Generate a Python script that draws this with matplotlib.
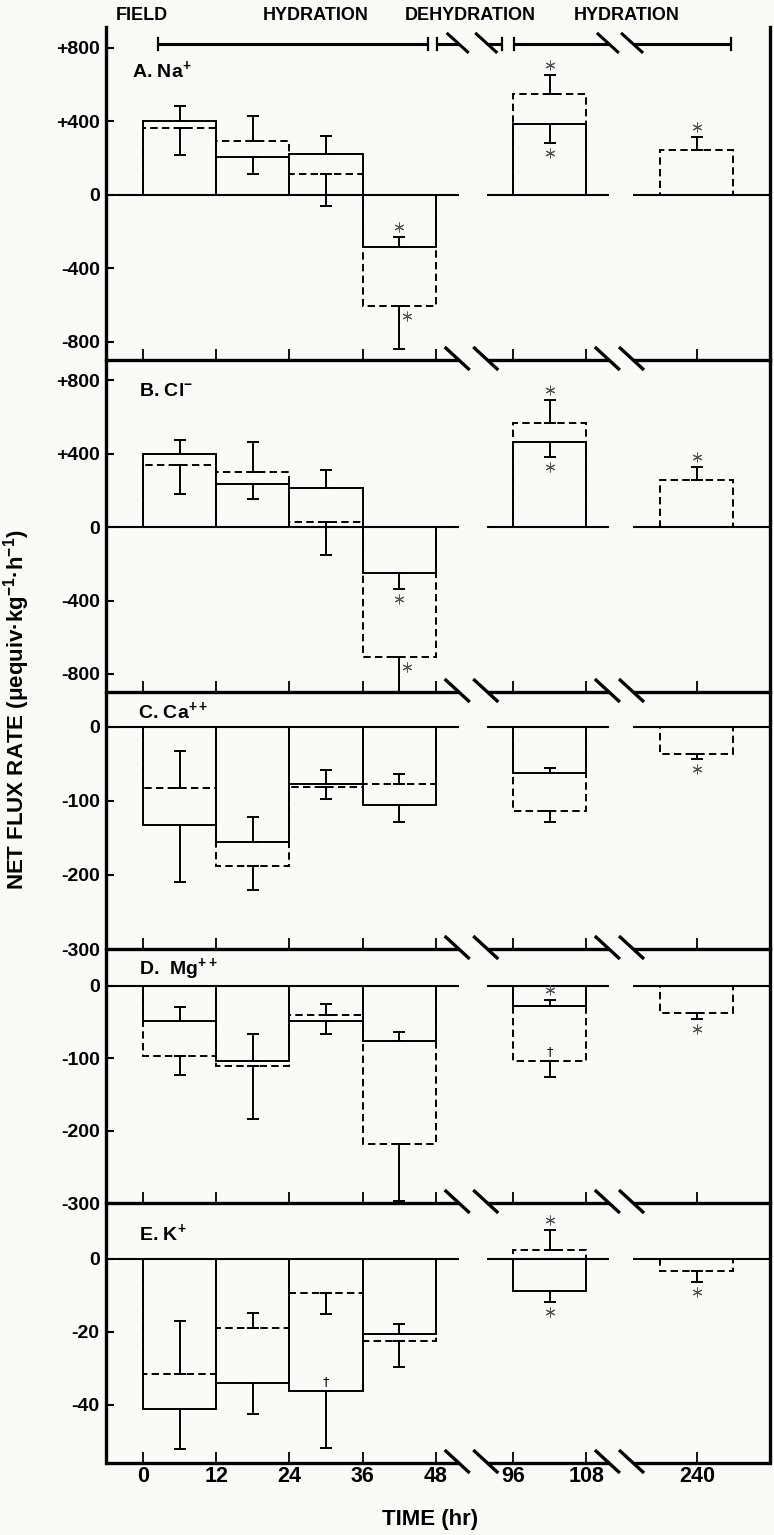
import matplotlib
matplotlib.use('Agg')
import matplotlib.pyplot as plt
import matplotlib.transforms as mtransforms
import numpy as np

plt.rcParams['font.family'] = ['Liberation Sans', 'DejaVu Sans']
plt.rcParams['font.weight'] = 'bold'
plt.rcParams['mathtext.fontset'] = 'custom'
plt.rcParams['mathtext.rm'] = 'Liberation Sans:bold'
plt.rcParams['mathtext.it'] = 'Liberation Sans:bold'
plt.rcParams['mathtext.bf'] = 'Liberation Sans:bold'
plt.rcParams['mathtext.default'] = 'rm'

BG = '#fafaf7'

# ---------------- data ----------------
tick_labels = ['0', '12', '24', '36', '48', '96', '108', '240']
# position of each time tick on the broken time axis (48 -> 96 and 108 -> 240 are breaks)
tick_pos = [0, 1, 2, 3, 4, 5.05, 6.05, 7.56]
periods = [('0', '12'), ('12', '24'), ('24', '36'), ('36', '48'), ('96', '108'), ('240', '240')]

na_solid = [400, 205, 225, -285, 385, np.nan]
na_solid_err = [85, -90, 95, 55, -100, np.nan]
na_dash = [365, 295, 115, -605, 548, 245]
na_dash_err = [-150, 137, -173, -235, 105, 72]

cl_solid = [400, 235, 210, -250, 460, np.nan]
cl_solid_err = [75, -85, 100, -90, -78, np.nan]
cl_dash = [335, 300, 25, -705, 565, 255]
cl_dash_err = [-155, 160, -177, -220, 125, 70]

ca_solid = [-132, -155, -77, -105, -63, np.nan]
ca_solid_err = [-78, 33, 19, -23, 7, np.nan]
ca_dash = [-83, -188, -81, -77, -114, -37]
ca_dash_err = [50, -32, -16, 13, -15, -6]

mg_solid = [-49, -104, -49, -76, -28, np.nan]
mg_solid_err = [20, 38, -17, 12, 9, np.nan]
mg_dash = [-97, -110, -40, -219, -104, -37]
mg_dash_err = [-26, -74, 15, -78, -22, -9]

k_solid = [-41.0, -33.9, -36.3, -20.6, -8.7, np.nan]
k_solid_err = [-11.0, -8.6, -15.6, 2.8, -3.0, np.nan]
k_dash = [-31.6, -18.8, -9.4, -22.6, 2.5, -3.3]
k_dash_err = [14.7, 4.1, -5.7, -6.9, 5.4, -2.9]

# significance marks: (series, period index, symbol, placement)
na_marks = [('solid', 3, '*', 'end'), ('dash', 3, '*', 'side'), ('solid', 4, '*', 'end'),
            ('dash', 4, '*', 'end'), ('dash', 5, '*', 'end')]
cl_marks = [('solid', 3, '*', 'end'), ('dash', 3, '*', 'side'), ('solid', 4, '*', 'end'),
            ('dash', 4, '*', 'end'), ('dash', 5, '*', 'end')]
ca_marks = [('dash', 5, '*', 'end')]
mg_marks = [('solid', 4, '*', 'end'), ('dash', 4, '\u2020', 'base'), ('dash', 5, '*', 'end')]
k_marks = [('solid', 2, '\u2020', 'base'), ('solid', 4, '*', 'end'), ('dash', 4, '*', 'end'),
           ('dash', 5, '*', 'end')]

panel_titles = ['A. Na$^{+}$', 'B. Cl$^{-}$', 'C. Ca$^{++}$', 'D.  Mg$^{++}$', 'E. K$^{+}$']
ytick_vals = [[800, 400, 0, -400, -800], [800, 400, 0, -400, -800],
              [0, -100, -200, -300], [0, -100, -200, -300], [0, -20, -40]]
ytick_text = [['+800', '+400', '0', '-400', '-800'], ['+800', '+400', '0', '-400', '-800'],
              ['0', '-100', '-200', '-300'], ['0', '-100', '-200', '-300'], ['0', '-20', '-40']]

phase_labels = ['FIELD', 'HYDRATION', 'DEHYDRATION', 'HYDRATION']

# ---------------- layout ----------------
W, H = 774, 1535
heights = [333, 332, 257, 254, 260]
ylims = [(-898, 914), (-898, 909), (-300, 47), (-300, 51), (-55.9, 15.3)]
title_y = [680, 735, 21, 23, 7.1]
title_x = [-0.15, -0.06, -0.07, -0.06, -0.05]
XMIN, XMAX = -0.505, 8.56
PXU = 73.25                      # pixels per x unit
BRK = [(4.31, 4.70), (6.36, 6.69)]
LW_BAR = 1.4
LW_SEP = 2.4
DASH = (0, (3.8, 2.2))

pos = dict(zip(tick_labels, tick_pos))
centers = np.array([(pos[a] + pos[b]) / 2 for a, b in periods])
width = 1.0

fig = plt.figure(figsize=(W / 100, H / 100), dpi=100, facecolor=BG)
gs = fig.add_gridspec(5, 1, left=106 / W, right=770 / W, top=1 - 27 / H, bottom=1 - 1463 / H,
                      hspace=0, height_ratios=heights)

datasets = [
    (na_solid, na_solid_err, na_dash, na_dash_err, na_marks),
    (cl_solid, cl_solid_err, cl_dash, cl_dash_err, cl_marks),
    (ca_solid, ca_solid_err, ca_dash, ca_dash_err, ca_marks),
    (mg_solid, mg_solid_err, mg_dash, mg_dash_err, mg_marks),
    (k_solid, k_solid_err, k_dash, k_dash_err, k_marks),
]

segments = [(XMIN, BRK[0][0]), (BRK[0][1], BRK[1][0]), (BRK[1][1], XMAX)]
axes = []
for i, (sv, se, dv, de, marks) in enumerate(datasets):
    ax = fig.add_subplot(gs[i])
    axes.append(ax)
    ax.set_facecolor('none')
    ax.set_xlim(XMIN, XMAX)
    ax.set_ylim(*ylims[i])
    hpx = heights[i]
    ppu = hpx / (ylims[i][1] - ylims[i][0])   # pixels per y unit

    sv = np.array(sv, float); se = np.array(se, float)
    dv = np.array(dv, float); de = np.array(de, float)

    for vals, errs, ls in [(sv, se, '-'), (dv, de, DASH)]:
        m = ~np.isnan(vals)
        ax.bar(centers[m], vals[m], width=width, bottom=0, fill=False, edgecolor='black',
               linewidth=LW_BAR, linestyle=ls, zorder=3)
        lo = np.where(errs[m] < 0, -errs[m], 0)
        hi = np.where(errs[m] > 0, errs[m], 0)
        ax.errorbar(centers[m], vals[m], yerr=[lo, hi], fmt='none', ecolor='black',
                    elinewidth=LW_BAR, capsize=4.5, capthick=LW_BAR, zorder=4)

    # zero line with breaks
    for a, b in segments:
        ax.plot([a, b], [0, 0], color='black', lw=1.5, solid_capstyle='butt', zorder=2)

    # bottom separator / axis line with breaks and double slashes
    tb = mtransforms.blended_transform_factory(ax.transData, ax.transAxes)
    for a, b in segments:
        ax.plot([a, b], [0, 0], color='black', lw=LW_SEP, solid_capstyle='butt',
                transform=tb, clip_on=False, zorder=5)
    for pair in BRK:
        for xc in pair:
            ax.plot([xc - 14 / PXU, xc + 11 / PXU], [13 / hpx, -10 / hpx], color='black',
                    lw=LW_SEP, transform=tb, clip_on=False, zorder=5, solid_capstyle='butt')

    # significance marks
    series = {'solid': (sv, se), 'dash': (dv, de)}
    for s, k, sym, place in marks:
        v, e = series[s][0][k], series[s][1][k]
        sg = np.sign(e)
        x = centers[k]
        if place == 'end':
            y = v + e + sg * 10 / ppu
        elif place == 'base':
            y = v - sg * 10 / ppu
        else:
            x = x + 8 / PXU
            y = v + sg * 10 / ppu
        if sym == '*':
            ax.plot([x], [y], marker=(6, 2, 0), ms=7, mew=0.75, color='#555555', zorder=6)
        else:
            ax.text(x, y, sym, ha='center', va='center', fontsize=9, fontweight='normal',
                    family=['DejaVu Sans'], zorder=6)

    # panel title
    ax.text(title_x[i], title_y[i], panel_titles[i], fontsize=14, fontweight='bold',
            ha='left', va='center')

    # spines and ticks
    ax.spines['top'].set_visible(False)
    ax.spines['bottom'].set_visible(False)
    for s in ['left', 'right']:
        ax.spines[s].set_linewidth(LW_SEP)
    ax.set_yticks(ytick_vals[i])
    ax.set_yticklabels(ytick_text[i])
    ax.tick_params(axis='y', direction='in', length=6, width=1.5, pad=4.5, labelsize=14)
    ax.set_xticks(tick_pos)
    ax.tick_params(axis='x', direction='in', length=8, width=1.3, pad=2, labelsize=15.5)
    if i < 4:
        ax.tick_params(axis='x', labelbottom=False)
    else:
        ax.set_xticklabels(tick_labels)

# ---------------- header (phase brackets) ----------------
axA = axes[0]
ppuA = heights[0] / (ylims[0][1] - ylims[0][0])
HY = 822
cap = 6 / ppuA
brackets = [(0.2, 3.89, []), (4.01, 4.9, [BRK[0]]), (5.06, 8.03, [BRK[1]])]
for a, b, brks in brackets:
    pts = [a]
    for g0, g1 in brks:
        pts += [g0, g1]
    pts.append(b)
    for j in range(0, len(pts), 2):
        axA.plot([pts[j], pts[j + 1]], [HY, HY], color='black', lw=2.2, clip_on=False,
                 solid_capstyle='butt')
    for xe in (a, b):
        axA.plot([xe, xe], [HY - cap, HY + cap], color='black', lw=1.6, clip_on=False)
    for g0, g1 in brks:
        for xc in (g0, g1):
            axA.plot([xc - 12 / PXU, xc + 10 / PXU], [HY + 11 / ppuA, HY - 9 / ppuA],
                     color='black', lw=2.2, clip_on=False, solid_capstyle='butt')

header_x = [142, 316, 470, 627]
for lab, xp in zip(phase_labels, header_x):
    fig.text(xp / W, 1 - 16 / H, lab, ha='center', va='center', fontsize=13, fontweight='bold')

# axis labels
fig.text(17 / W, 1 - 710 / H, 'NET FLUX RATE (\u03bcequiv\u00b7kg$^{-1}$\u00b7h$^{-1}$)',
         rotation=90, ha='center', va='center', fontsize=16, fontweight='bold')
fig.text(430 / W, 1 - 1520 / H, 'TIME (hr)', ha='center', va='center', fontsize=16,
         fontweight='bold')

fig.savefig('out.png', dpi=100, facecolor=BG)
